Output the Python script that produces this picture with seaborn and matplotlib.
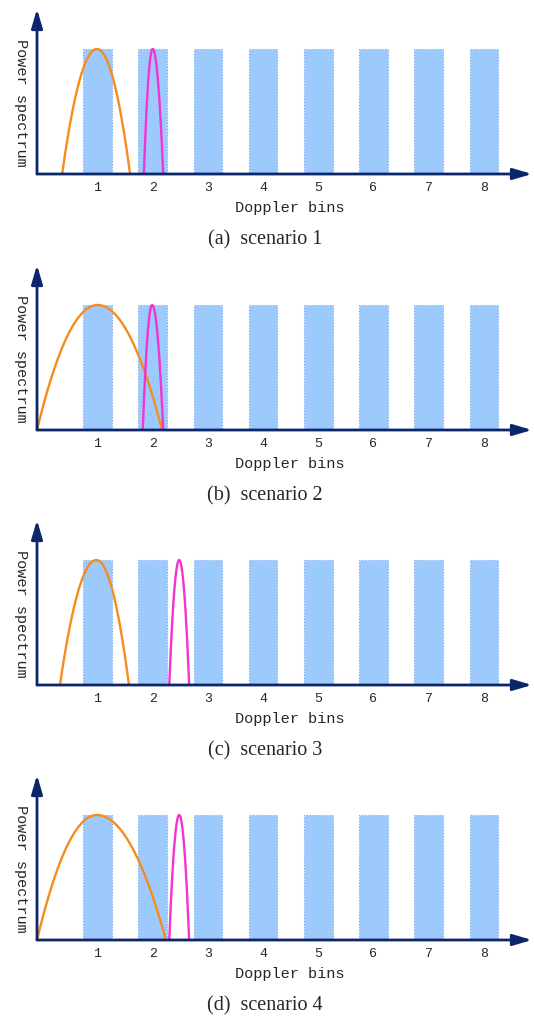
import numpy as np
import pandas as pd
import matplotlib
matplotlib.use("Agg")
import matplotlib.pyplot as plt
import seaborn as sns

# Doppler bin positions and their (normalised) power
bins = [1, 2, 3, 4, 5, 6, 7, 8]
bin_power = [1, 1, 1, 1, 1, 1, 1, 1]
tick_labels = ["1", "2", "3", "4", "5", "6", "7", "8"]

captions = ["(a)  scenario 1", "(b)  scenario 2", "(c)  scenario 3", "(d)  scenario 4"]

# Spectral lobes per scenario: (left foot, peak, right foot) on the bin axis
orange_lobes = [(0.36, 0.99, 1.59), (-0.096, 1.00, 2.17), (0.32, 0.98, 1.57), (-0.096, 0.99, 2.24)]
magenta_lobes = [(1.84, 2.00, 2.19), (1.82, 1.99, 2.19), (2.30, 2.48, 2.66), (2.30, 2.48, 2.66)]
lobe_peak = 1.0

NAVY = "#0b266b"
BAR = "#9ccafd"
BAR_EDGE = "#7ea6ee"
ORANGE = "#f68c1f"
MAGENTA = "#f533d0"

sns.set_theme(style="white")
plt.rcParams["font.family"] = ["Liberation Mono", "DejaVu Sans Mono"]

W, H = 534, 1020
fig = plt.figure(figsize=(W / 100, H / 100), dpi=100)

baselines = [175, 431, 686, 941]
x_left_px, x_right_px = 37, 532
axis_h_px = 165
xlim = (-0.096, (x_right_px - x_left_px) / 55.2 - 0.096)
ylim = (0, axis_h_px / 125)


def lobe(left, peak, right, n=200):
    xl = np.linspace(left, peak, n)
    xr = np.linspace(peak, right, n)[1:]
    yl = lobe_peak * (1 - ((xl - peak) / (peak - left)) ** 2)
    yr = lobe_peak * (1 - ((xr - peak) / (right - peak)) ** 2)
    return np.concatenate([xl, xr]), np.concatenate([yl, yr])


bar_df = pd.DataFrame({"bin": bins, "power": bin_power})

for i, base in enumerate(baselines):
    ax = fig.add_axes([x_left_px / W, (H - base) / H,
                       (x_right_px - x_left_px) / W, axis_h_px / H])
    sns.barplot(data=bar_df, x="bin", y="power", native_scale=True, width=0.52,
                color=BAR, saturation=1, edgecolor=BAR_EDGE, linestyle=":",
                linewidth=0.8, ax=ax, zorder=1)

    ox, oy = lobe(*orange_lobes[i])
    sns.lineplot(x=ox, y=oy, sort=False, estimator=None, color=ORANGE,
                 linewidth=1.7, ax=ax, zorder=3)
    mx, my = lobe(*magenta_lobes[i])
    sns.lineplot(x=mx, y=my, sort=False, estimator=None, color=MAGENTA,
                 linewidth=1.7, ax=ax, zorder=3)

    ax.set_xlim(*xlim)
    ax.set_ylim(*ylim)
    for s in ax.spines.values():
        s.set_visible(False)
    ax.set_yticks([])
    ax.set_xticks(bins)
    ax.set_xticklabels(tick_labels, fontsize=9.5)
    ax.tick_params(axis="x", length=0, pad=5)

    # Arrowed axes
    arrow_style = "-|>,head_length=0.95,head_width=0.28"
    ax.annotate("", xy=(1, 0), xytext=(0, 0), xycoords="axes fraction",
                arrowprops=dict(arrowstyle=arrow_style, color=NAVY, lw=2,
                                shrinkA=0, shrinkB=0), zorder=5)
    ax.annotate("", xy=(0, 1), xytext=(0, 0), xycoords="axes fraction",
                arrowprops=dict(arrowstyle=arrow_style, color=NAVY, lw=2,
                                shrinkA=0, shrinkB=0), zorder=5)

    ax.set_xlabel("Doppler bins", fontsize=11, va="center", ha="center")
    ax.xaxis.set_label_coords((290 - x_left_px) / (x_right_px - x_left_px), -33 / axis_h_px)
    ax.set_ylabel("Power spectrum", fontsize=11, rotation=270, va="center", ha="center")
    ax.yaxis.set_label_coords((21 - x_left_px) / (x_right_px - x_left_px), 0.44)

    fig.text(265 / W, (H - (base + 65)) / H, captions[i], fontsize=14.5,
             family=["Liberation Serif", "DejaVu Serif"], ha="center", va="center")

fig.savefig("out.png", dpi=100)
